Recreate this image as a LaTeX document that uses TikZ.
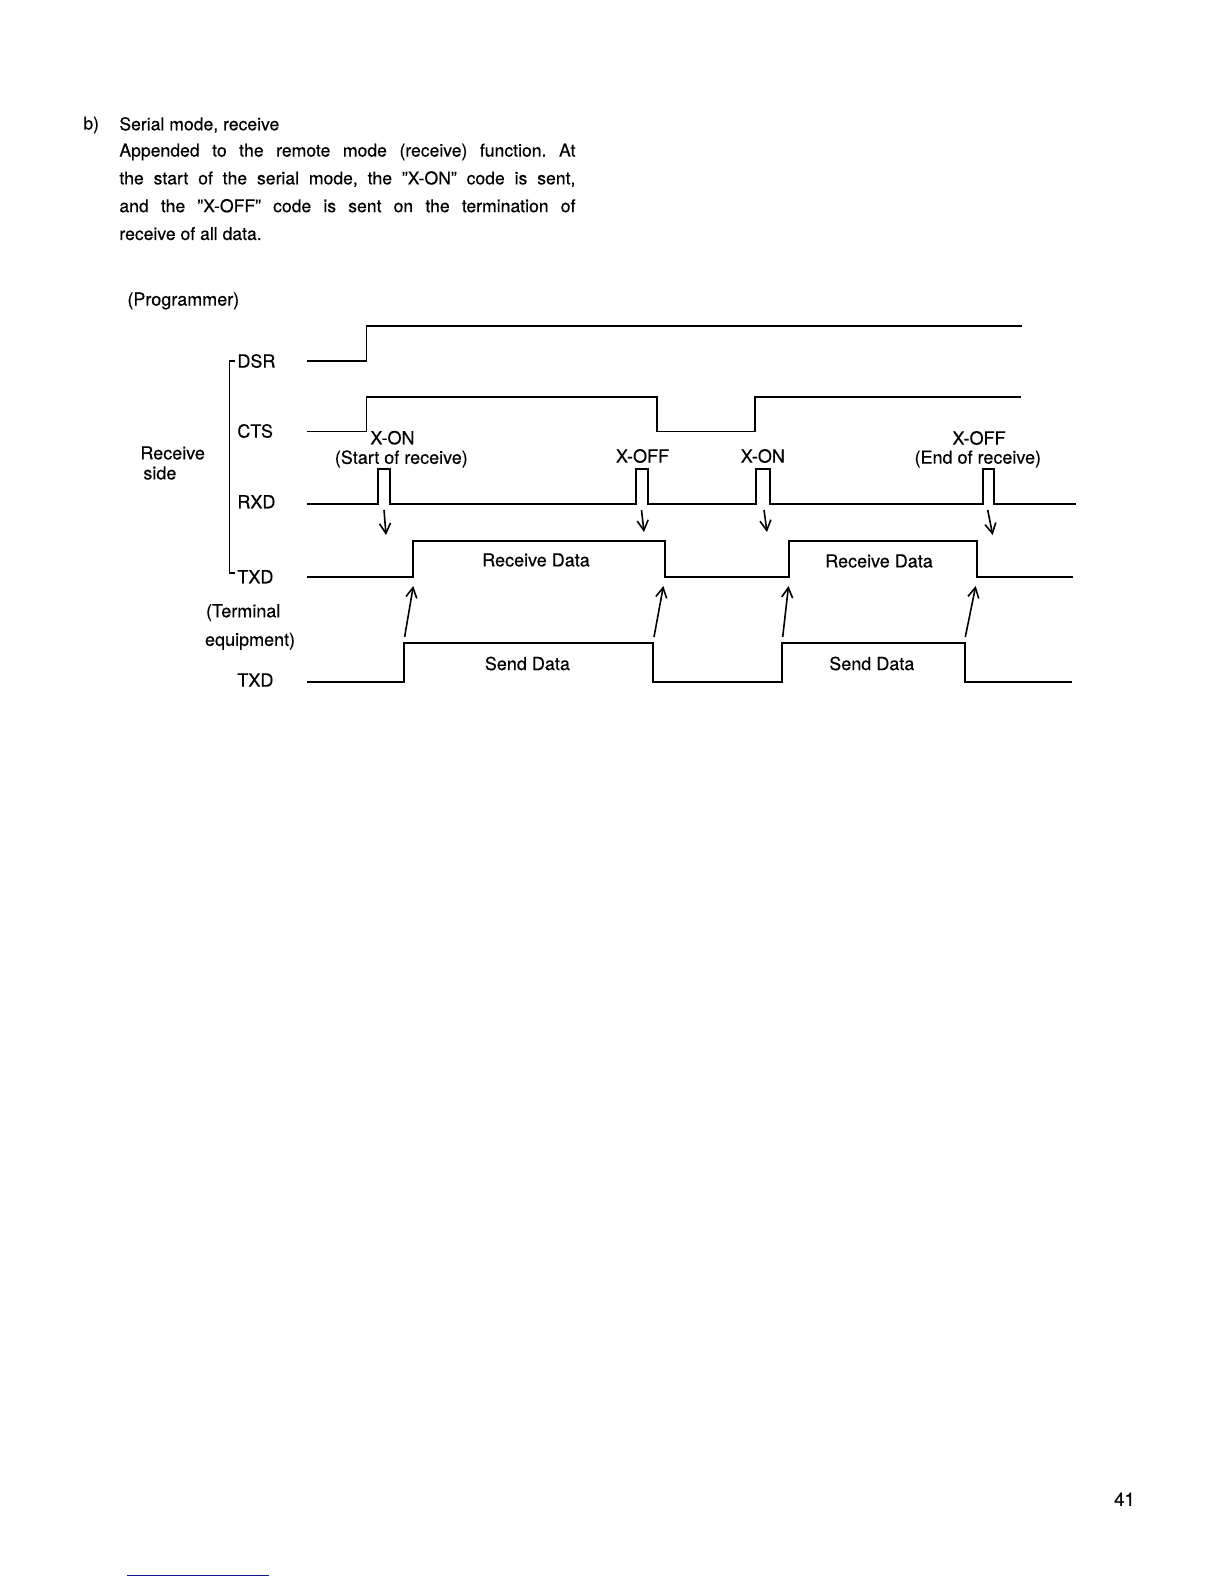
\documentclass[tikz,border=0pt]{standalone}
\usepackage{fontspec}
\setmainfont{TeX Gyre Heros}[FakeBold=0.35]
\usepackage{xcolor}
\usetikzlibrary{arrows.meta}
\definecolor{linkblue}{RGB}{20,20,140}
\frenchspacing

\begin{document}
\begin{tikzpicture}[x=0.5pt, y=-0.5pt,
  sig/.style={line width=0.9pt, line join=miter},
  lbl/.style={inner sep=0pt, font=\fontsize{9}{11}\selectfont},
  body/.style={inner sep=0pt, font=\fontsize{8.8}{13.9}\selectfont},
  cue/.style={-{Straight Barb[length=5pt, width=5.5pt]}, line width=0.8pt}
]
\path[fill=white] (0,0) rectangle (1224,1584);
\useasboundingbox (0,0) rectangle (1224,1584);

% Heading and paragraph.
\node[body, anchor=west] (item) at (83,125) {b)};
\node[body, anchor=west] (title) at (119,125) {Serial mode, receive};
\node[body, anchor=north west, text width=228pt, align=justify] (para) at (119,143.3)
  {Appended to the remote mode (receive) function. At\linebreak
   the start of the serial mode, the ''X-ON'' code is sent,\linebreak
   and the ''X-OFF'' code is sent on the termination of\linebreak
   receive of all data.};

% Side labels.
\node[lbl, anchor=west] (prog) at (127,301) {(Programmer)};
\node[lbl, anchor=west, align=left, font=\fontsize{9}{10}\selectfont] (side) at (140,463)
  {Receive\\\hspace{1.5pt}side};
\node[lbl, anchor=west, align=left, font=\fontsize{9}{14.3}\selectfont] (term) at (204.6,627)
  {\hspace{0.5pt}(Terminal\\equipment)};
\draw[line width=0.8pt] (235,360.7) -- (229.3,360.7) -- (229.3,572.7) -- (235,572.7);

% Signal names.
\node[lbl, anchor=west] (dsr) at (237,361) {DSR};
\node[lbl, anchor=west] (cts) at (237,431) {CTS};
\node[lbl, anchor=west] (rxd) at (237,501.7) {RXD};
\node[lbl, anchor=west] (txd) at (237,576.7) {TXD};
\node[lbl, anchor=west] (txdt) at (237,680) {TXD};

% Waveforms.
\draw[sig] (306.8,361) -- (366.4,361) -- (366.4,326) -- (1021.7,326);
\draw[sig] (306.8,431.5) -- (366.4,431.5) -- (366.4,397) -- (656.7,397) -- (656.7,431.5)
  -- (755,431.5) -- (755,397) -- (1020.7,397);
\draw[sig] (306.8,504.2) -- (377.8,504.2) -- (377.8,469.3) -- (389.8,469.3) -- (389.8,504.2)
  -- (636,504.2) -- (636,469.3) -- (647.7,469.3) -- (647.7,504.2)
  -- (755.7,504.2) -- (755.7,469.3) -- (770,469.3) -- (770,504.2)
  -- (982.7,504.2) -- (982.7,469.3) -- (994,469.3) -- (994,504.2) -- (1076,504.2);
\draw[sig] (306.8,577.3) -- (412.9,577.3) -- (412.9,540.7) -- (664.6,540.7) -- (664.6,577.3)
  -- (789,577.3) -- (789,540.7) -- (976.7,540.7) -- (976.7,577.3) -- (1072.7,577.3);
\draw[sig] (306.8,681.7) -- (404,681.7) -- (404,643.3) -- (652.7,643.3) -- (652.7,681.7)
  -- (782,681.7) -- (782,643.3) -- (965.3,643.3) -- (965.3,681.7) -- (1072,681.7);

% Code labels.
\node[lbl, anchor=west] (xon1) at (370,437.7) {X-ON};
\node[lbl] (start) at (401.3,459) {(Start of receive)};
\node[lbl] (xoff1) at (642.5,456) {X-OFF};
\node[lbl] (xon2) at (762.8,456) {X-ON};
\node[lbl] (xoff2) at (979,438) {X-OFF};
\node[lbl] (stop) at (977.8,459) {(End of receive)};

% Data blocks.
\node[lbl] (rd1) at (536,560) {Receive Data};
\node[lbl] (rd2) at (879,561) {Receive Data};
\node[lbl] (sd1) at (527.4,663.5) {Send Data};
\node[lbl] (sd2) at (871.8,663.5) {Send Data};

% Down arrows from the codes.
\coordinate (d1a) at (384,510);   \coordinate (d1b) at (386,535);
\coordinate (d2a) at (641.5,510); \coordinate (d2b) at (644,532);
\coordinate (d3a) at (764,510);   \coordinate (d3b) at (767,532);
\coordinate (d4a) at (987.7,510); \coordinate (d4b) at (992.7,535);
\draw[cue] (d1a) -- (d1b);
\draw[cue] (d2a) -- (d2b);
\draw[cue] (d3a) -- (d3b);
\draw[cue] (d4a) -- (d4b);

% Up arrows from the send blocks.
\coordinate (u1a) at (404.6,637); \coordinate (u1b) at (413.3,586);
\coordinate (u2a) at (654,637);   \coordinate (u2b) at (663.4,586);
\coordinate (u3a) at (782.7,637); \coordinate (u3b) at (788.5,586);
\coordinate (u4a) at (965.3,637); \coordinate (u4b) at (975.7,586);
\draw[cue] (u1a) -- (u1b);
\draw[cue] (u2a) -- (u2b);
\draw[cue] (u3a) -- (u3b);
\draw[cue] (u4a) -- (u4b);

% Page foot.
\node[lbl, font=\fontsize{9.3}{11}\selectfont] (page) at (1124.5,1499.3) {41};
\draw[linkblue, line width=0.6pt] (127.3,1575.3) -- (269,1575.3);

\end{tikzpicture}
\end{document}
